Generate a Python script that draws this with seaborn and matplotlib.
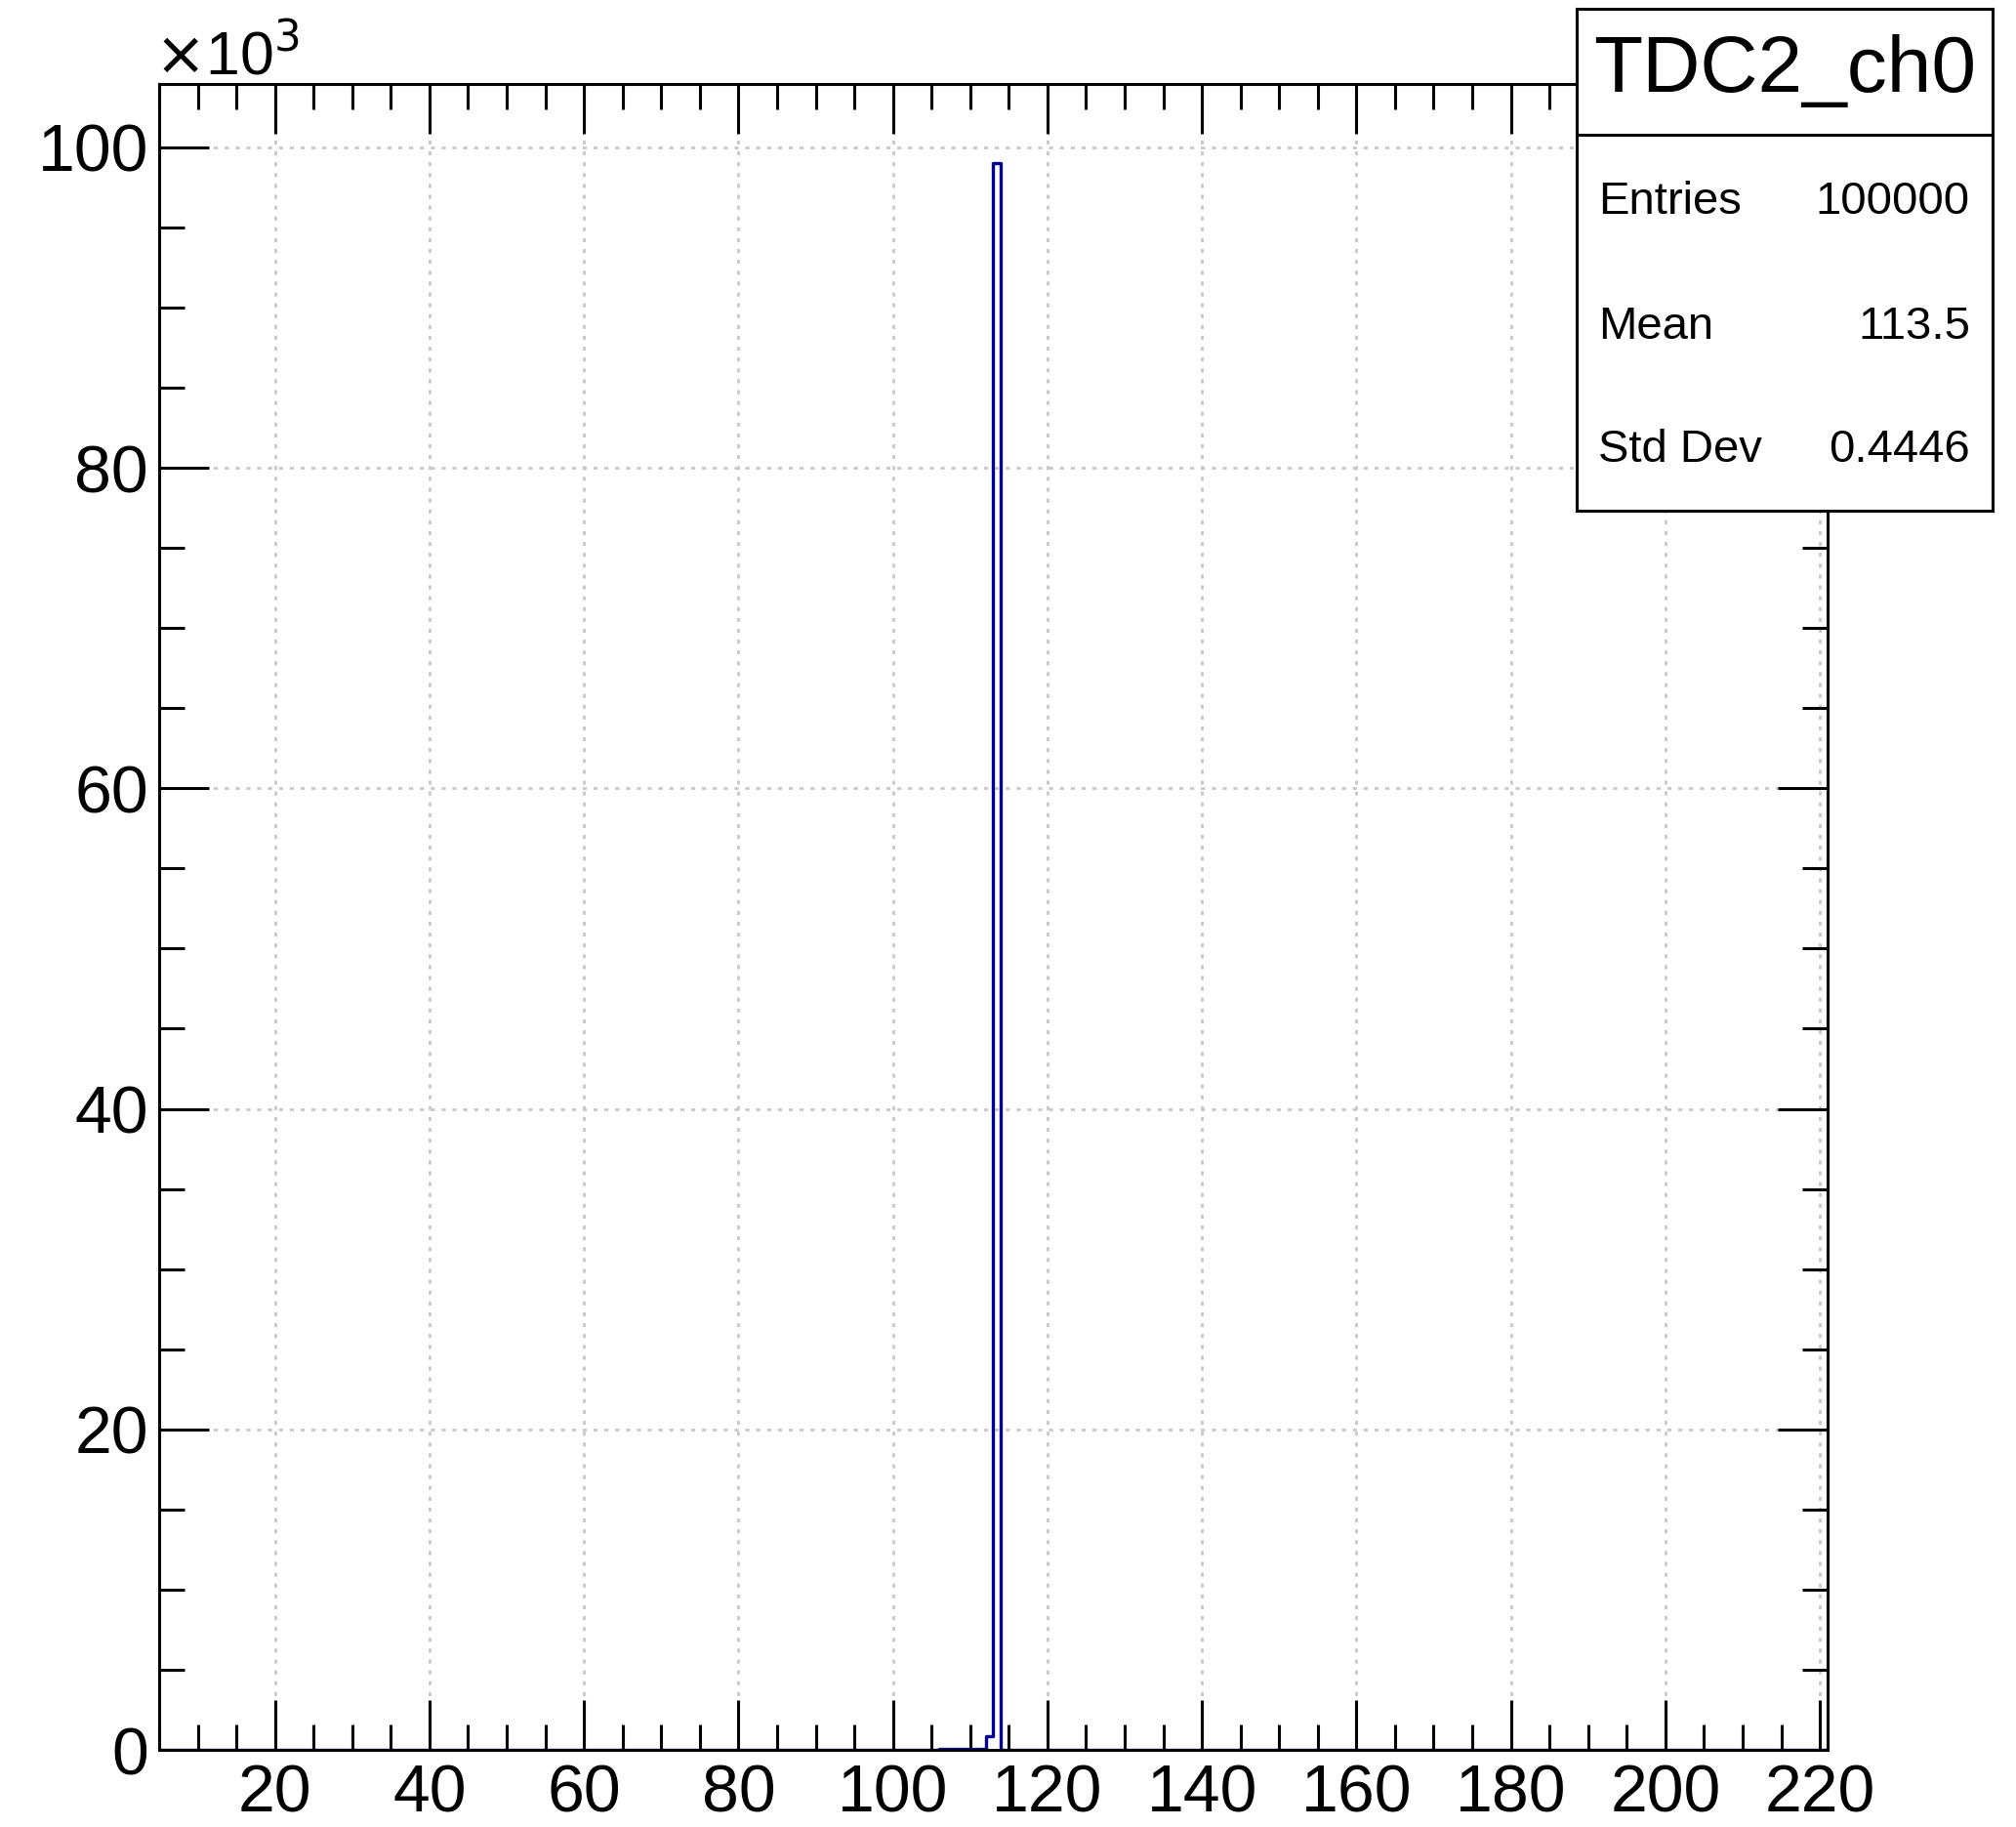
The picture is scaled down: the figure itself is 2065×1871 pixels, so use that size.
import numpy as np
import pandas as pd
import seaborn as sns
import matplotlib.pyplot as plt
from matplotlib.ticker import MultipleLocator

# histogram contents (bin width 1, range 5..221)
bin_low = [106, 107, 108, 109, 110, 111, 112, 113]
bin_count = [50, 60, 60, 60, 70, 80, 870, 99000]
x_min, x_max = 5, 221
y_max = 103950

stat_title = "TDC2_ch0"
stat_names = ["Entries", "Mean", "Std Dev"]
stat_values = ["100000", "113.5", "0.4446"]

df = pd.DataFrame({"x": np.array(bin_low) + 0.5, "w": bin_count})

sns.set_style("white")
plt.rcParams['font.family'] = ['Liberation Sans', 'DejaVu Sans']
plt.rcParams['text.color'] = 'black'
plt.rcParams['xtick.color'] = 'black'
plt.rcParams['ytick.color'] = 'black'
plt.rcParams['axes.labelcolor'] = 'black'

fig = plt.figure(figsize=(20.65, 18.71), dpi=100)
ax = fig.add_axes([163 / 2065, 1 - 1792 / 1871, (1872 - 163) / 2065, (1792 - 86) / 1871])

sns.histplot(data=df, x="x", weights="w", bins=x_max - x_min, binrange=(x_min, x_max),
             element="step", fill=False, color="#000099", linewidth=2.4, ax=ax)

ax.set_xlim(x_min, x_max)
ax.set_ylim(0, y_max)
ax.set_xlabel("")
ax.set_ylabel("")

ax.xaxis.set_major_locator(MultipleLocator(20))
ax.xaxis.set_minor_locator(MultipleLocator(5))
ax.set_yticks(np.arange(0, 100001, 20000))
ax.set_yticklabels([str(v) for v in range(0, 101, 20)])
ax.yaxis.set_minor_locator(MultipleLocator(5000))

ax.tick_params(which="both", direction="in", bottom=True, left=True, top=True, right=True,
               width=2.2, labelsize=49, color="black", labelcolor="black")
ax.tick_params(which="major", length=37)
ax.tick_params(which="minor", length=19)
ax.tick_params(axis="x", which="major", pad=10)
ax.tick_params(axis="y", which="major", pad=8)

for s in ax.spines.values():
    s.set_linewidth(2.2)
    s.set_color("black")
    s.set_visible(True)

ax.grid(True, which="major", color="#c8c8c8", linewidth=2.0, linestyle=(0, (1.5, 2.5)))
ax.set_axisbelow(True)

fig.text(0.0765, 0.9525, r"$\times$10$^{3}$", fontsize=45, ha="left", va="bottom")

# stat box
box_l, box_r, box_t, box_b, box_sep = 1615, 2041, 9, 523, 138
sb = fig.add_axes([box_l / 2065, 1 - box_b / 1871, (box_r - box_l) / 2065, (box_b - box_t) / 1871])
sb.set_xticks([])
sb.set_yticks([])
sb.set_xlim(0, 1)
sb.set_ylim(0, 1)
for s in sb.spines.values():
    s.set_linewidth(2.2)
    s.set_color("black")
sep = 1 - (box_sep - box_t) / (box_b - box_t)
sb.axhline(sep, color="black", linewidth=2.2)
sb.text(0.5, (1 + sep) / 2, stat_title, fontsize=59, ha="center", va="center")
rows_y = [207, 335, 461]
for name, val, yy in zip(stat_names, stat_values, rows_y):
    yf = 1 - (yy - box_t) / (box_b - box_t)
    sb.text(0.052, yf, name, fontsize=34, ha="left", va="center")
    sb.text(0.946, yf, val, fontsize=34, ha="right", va="center")

fig.savefig("out.png", dpi=100, facecolor="white")
